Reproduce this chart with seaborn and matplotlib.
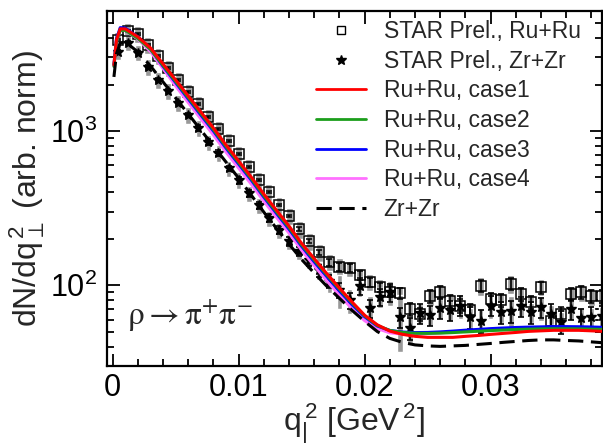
import seaborn as sns
import matplotlib.pyplot as plt
from matplotlib.lines import Line2D
from matplotlib.ticker import FixedLocator, FuncFormatter, LogLocator, NullFormatter

# STAR preliminary points, q_perp^2 bin centres [GeV^2]
q2_bins = [0.0004, 0.0012, 0.0020, 0.0028, 0.0036, 0.0044, 0.0052, 0.0060, 0.0068, 0.0076,
           0.0084, 0.0092, 0.0100, 0.0108, 0.0116, 0.0124, 0.0132, 0.0140, 0.0148, 0.0156,
           0.0164, 0.0172, 0.0180, 0.0188, 0.0196, 0.0204, 0.0212, 0.0220, 0.0228, 0.0236,
           0.0244, 0.0252, 0.0260, 0.0268, 0.0276, 0.0284, 0.0292, 0.0300, 0.0308, 0.0316,
           0.0324, 0.0332, 0.0340, 0.0348, 0.0356, 0.0364, 0.0372, 0.0380, 0.0388]

ru_data = [3898, 4461, 4264, 3618, 3069, 2566, 2144, 1791, 1497, 1233,
           1030, 861, 709, 583, 481, 402, 331, 281, 231, 193,
           164, 141, 131, 129, 116, 105, 97, 91, 89, 70,
           65, 85, 91, 79, 74, 69, 99, 81, 80, 102,
           88, 78, 97, 59, 65, 88, 90, 85, 85]
ru_stat = [0.01, 0.01, 0.01, 0.01, 0.01, 0.01, 0.01, 0.01, 0.01, 0.01,
           0.015, 0.015, 0.015, 0.015, 0.015, 0.02, 0.02, 0.02, 0.03, 0.03,
           0.04, 0.05, 0.06, 0.06, 0.07, 0.07, 0.07, 0.08, 0.08, 0.09,
           0.09, 0.09, 0.09, 0.10, 0.10, 0.10, 0.09, 0.10, 0.10, 0.09,
           0.10, 0.10, 0.09, 0.12, 0.11, 0.10, 0.10, 0.10, 0.10]
ru_syst = [0.13, 0.13, 0.13, 0.13, 0.13, 0.13, 0.13, 0.13, 0.13, 0.13,
           0.13, 0.13, 0.13, 0.13, 0.13, 0.13, 0.13, 0.13, 0.13, 0.13,
           0.13, 0.14, 0.14, 0.12, 0.12, 0.13, 0.13, 0.12, 0.12, 0.13,
           0.13, 0.13, 0.12, 0.13, 0.13, 0.13, 0.14, 0.13, 0.14, 0.14,
           0.13, 0.13, 0.14, 0.13, 0.13, 0.13, 0.13, 0.13, 0.13]

zr_data = [3258, 3728, 3210, 2603, 2144, 1818, 1520, 1270, 1046, 848,
           720, 575, 481, 396, 331, 272, 228, 193, 166, 145,
           125, 106, 93, 80, 99, 71, 84, 90, 62, 53,
           66, 64, 71, 69, 74, 62, 59, 74, 67, 68,
           73, 67, 72, 65, 58, 70, 61, 62, 63]
zr_stat = [0.03, 0.03, 0.03, 0.03, 0.03, 0.03, 0.03, 0.03, 0.04, 0.04,
           0.04, 0.04, 0.05, 0.05, 0.05, 0.06, 0.06, 0.07, 0.07, 0.08,
           0.09, 0.10, 0.11, 0.12, 0.12, 0.13, 0.13, 0.14, 0.15, 0.16,
           0.15, 0.15, 0.15, 0.15, 0.15, 0.16, 0.17, 0.15, 0.16, 0.16,
           0.15, 0.16, 0.15, 0.16, 0.17, 0.15, 0.16, 0.16, 0.16]
zr_syst = [0.12, 0.12, 0.12, 0.12, 0.12, 0.12, 0.12, 0.12, 0.12, 0.12,
           0.12, 0.12, 0.12, 0.12, 0.12, 0.12, 0.12, 0.12, 0.12, 0.12,
           0.14, 0.16, 0.25, 0.18, 0.15, 0.20, 0.15, 0.18, 0.40, 0.20,
           0.15, 0.15, 0.15, 0.15, 0.18, 0.15, 0.20, 0.18, 0.15, 0.25,
           0.15, 0.15, 0.18, 0.15, 0.15, 0.15, 0.18, 0.15, 0.15]

# model curves
q2_th = [0.0001, 0.0003, 0.0006, 0.001, 0.002, 0.003, 0.004, 0.005, 0.006, 0.007,
         0.008, 0.009, 0.010, 0.011, 0.012, 0.013, 0.014, 0.015, 0.016, 0.017,
         0.018, 0.019, 0.020, 0.021, 0.022, 0.023, 0.024, 0.025, 0.026, 0.027,
         0.028, 0.029, 0.030, 0.031, 0.032, 0.033, 0.034, 0.035, 0.036, 0.037,
         0.038, 0.039]
ru_case1 = [2684, 3898, 4595, 4595, 4077, 3459, 2723, 2144, 1687, 1328,
            1046, 811, 639, 503, 390, 307, 242, 187, 149, 119,
            96, 78, 64, 55.5, 50.5, 48.1, 46.7, 46.0, 46.0, 46.0,
            46.7, 47.3, 48.1, 48.8, 49.5, 50.3, 50.7, 51.1, 51.1, 51.1,
            50.7, 50.3]
ru_case2 = [2625, 3812, 4494, 4494, 3987, 3383, 2663, 2097, 1650, 1299,
            1023, 793, 625, 492, 381, 300, 237, 183, 146, 117,
            94.5, 77, 63.5, 55, 51.0, 49.5, 48.9, 48.8, 49.0, 49.4,
            49.9, 50.4, 50.9, 51.3, 51.7, 52.0, 52.2, 52.3, 52.3, 52.2,
            52.0, 51.8]
ru_case3 = [2700, 3950, 4680, 4650, 4077, 3400, 2630, 2060, 1615, 1270,
            1000, 775, 611, 481, 373, 293, 231, 179, 142, 114,
            92, 75, 62.5, 54.5, 51.0, 49.8, 49.4, 49.5, 49.9, 50.5,
            51.2, 51.8, 52.4, 52.9, 53.3, 53.6, 53.8, 54.0, 54.0, 53.9,
            53.7, 53.4]
ru_case4 = [2630, 3820, 4500, 4480, 3950, 3280, 2540, 1960, 1530, 1200,
            942, 730, 575, 453, 351, 276, 218, 169, 134, 107,
            86.5, 70.5, 59, 52.5, 49.2, 48.3, 48.3, 48.6, 49.2, 49.9,
            50.6, 51.3, 51.9, 52.4, 52.8, 53.1, 53.3, 53.4, 53.4, 53.2,
            53.0, 52.7]
zr_model = [2243, 3162, 3728, 3784, 3258, 2642, 2080, 1638, 1290, 1015,
            799, 629, 495, 384, 298, 234, 185, 147, 120, 98.6,
            82.4, 68.8, 58.4, 50.2, 45.3, 42.7, 41.1, 40.5, 40.2, 40.5,
            40.8, 41.4, 42.0, 42.7, 43.3, 43.9, 44.3, 44.3, 43.9, 43.6,
            43.0, 42.4]

sns.set_style("ticks")
plt.rcParams['font.family'] = ['Liberation Sans', 'DejaVu Sans']
plt.rcParams['mathtext.fontset'] = 'custom'
plt.rcParams['mathtext.rm'] = 'Liberation Sans'
plt.rcParams['mathtext.it'] = 'Liberation Sans'

fig = plt.figure(figsize=(6.03, 4.47), dpi=100)
ax = fig.add_axes([107 / 603, 81 / 447, 494.5 / 603, 355 / 447])
ax.set_yscale('log')

# systematic boxes
ru_sys_lo = [v * (1 - s) for v, s in zip(ru_data, ru_syst)]
ru_sys_h = [v * 2 * s for v, s in zip(ru_data, ru_syst)]
zr_sys_lo = [v * (1 - s) for v, s in zip(zr_data, zr_syst)]
zr_sys_h = [v * 2 * s for v, s in zip(zr_data, zr_syst)]
ax.bar(q2_bins, ru_sys_h, bottom=ru_sys_lo, width=0.00055, color='0.6', zorder=1)
ax.bar(q2_bins, zr_sys_h, bottom=zr_sys_lo, width=0.00045, color='0.6', zorder=1)

ax.errorbar(q2_bins, ru_data, yerr=[v * s for v, s in zip(ru_data, ru_stat)], fmt='s',
            ms=7.8, mfc='none', mec='k', mew=1.1, ecolor='k', elinewidth=1.2,
            capsize=2.5, capthick=1.2, zorder=3)
ax.errorbar(q2_bins, zr_data, yerr=[v * s for v, s in zip(zr_data, zr_stat)], fmt='*',
            ms=7, color='k', ecolor='k', elinewidth=1.2, capsize=2.5, capthick=1.2, zorder=3)

# red drawn last among the Ru curves so it sits on top
curves = [(ru_case4, '#ff70ff', '-'), (ru_case3, '#0000ff', '-'), (ru_case2, '#1c9e1c', '-'),
          (ru_case1, '#ff0000', '-'), (zr_model, 'black', (0, (5, 2.5)))]
for vals, col, ls in curves:
    sns.lineplot(x=q2_th, y=vals, color=col, linestyle=ls, lw=2.2, ax=ax, zorder=4)

ax.set_xlim(-0.00045, 0.0388)
ax.set_ylim(30, 6000)

ax.xaxis.set_major_locator(FixedLocator([0, 0.01, 0.02, 0.03]))
ax.xaxis.set_minor_locator(FixedLocator([0.002 * k for k in range(20)]))
ax.xaxis.set_major_formatter(FuncFormatter(lambda v, p: '%g' % round(v, 4)))
ax.yaxis.set_major_locator(LogLocator(base=10))
ax.yaxis.set_minor_locator(LogLocator(base=10, subs=range(2, 10)))
ax.yaxis.set_minor_formatter(NullFormatter())

ax.tick_params(which='both', direction='in', top=True, right=True, width=1.3,
               labelsize=22, colors='k')
ax.tick_params(which='major', length=9)
ax.tick_params(which='minor', length=5)
ax.tick_params(axis='x', which='major', pad=5)
ax.tick_params(axis='y', which='major', pad=7)
for sp in ax.spines.values():
    sp.set_linewidth(1.6)
    sp.set_color('k')

ax.set_xlabel(r'q$_{|}^{\,2}$ [GeV$^{\,2}$]', fontsize=23, labelpad=-1)
ax.set_ylabel(r'dN/dq$_{\perp}^{\,2}$ (arb. norm)', fontsize=23, labelpad=2)

ax.text(0.04, 0.09, r'$\mathrm{\rho} \rightarrow \mathrm{\pi}^{+}\mathrm{\pi}^{-}$',
        transform=ax.transAxes, fontsize=24, math_fontfamily='stix', va='bottom')

handles = [
    Line2D([], [], ls='none', marker='s', ms=6, mfc='none', mec='k', mew=1.0),
    Line2D([], [], ls='none', marker='*', ms=7, color='k'),
    Line2D([], [], color='#ff0000', lw=2),
    Line2D([], [], color='#1c9e1c', lw=2),
    Line2D([], [], color='#0000ff', lw=2),
    Line2D([], [], color='#ff70ff', lw=2),
    Line2D([], [], color='k', lw=2.2, ls=(0, (5, 2.5))),
]
labels = ['STAR Prel., Ru+Ru', 'STAR Prel., Zr+Zr', 'Ru+Ru, case1', 'Ru+Ru, case2',
          'Ru+Ru, case3', 'Ru+Ru, case4', 'Zr+Zr']
fig.legend(handles, labels, loc='upper left', bbox_to_anchor=(316 / 603, 1 - 20 / 447),
           frameon=False, fontsize=16.5, handlelength=2.2, handletextpad=0.75,
           labelspacing=0.29, borderpad=0, borderaxespad=0)

fig.savefig('out.png', dpi=100)
